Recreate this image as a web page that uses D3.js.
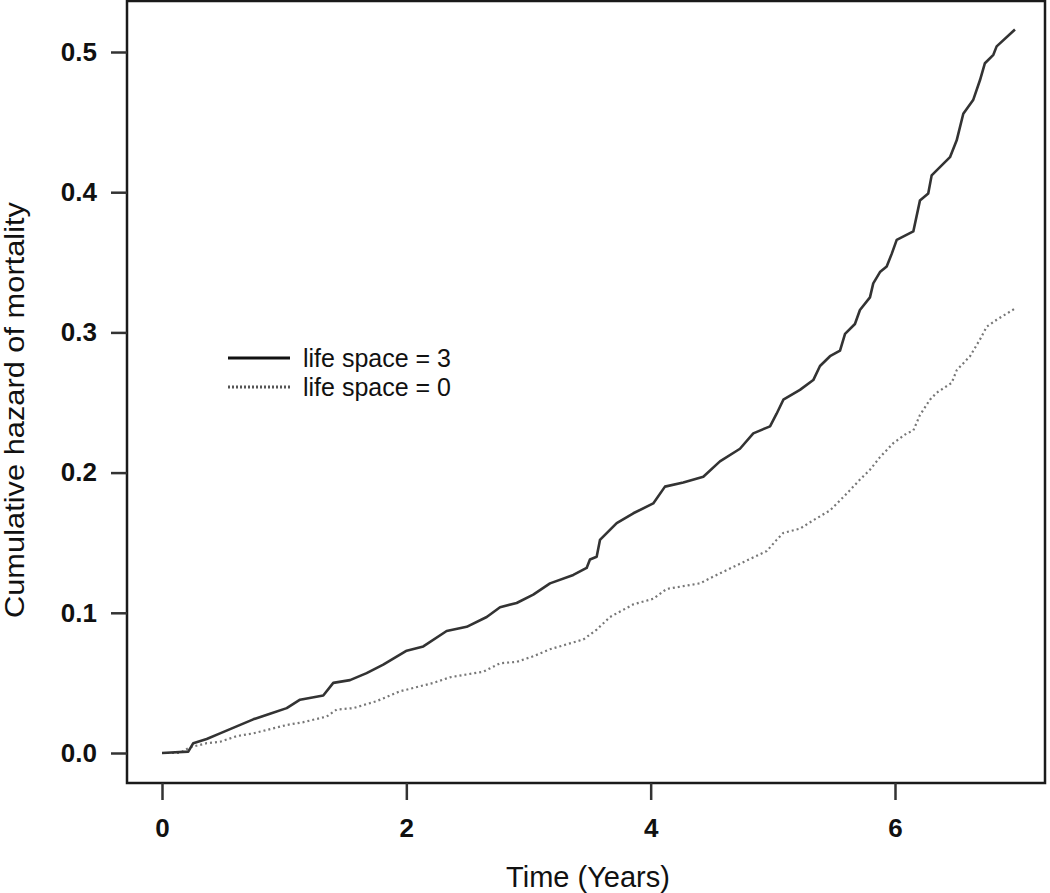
<!DOCTYPE html>
<html>
<head>
<meta charset="utf-8">
<script src="https://cdn.jsdelivr.net/npm/d3@7"></script>
<style>
  html, body { margin: 0; padding: 0; background: #fff; }
  svg { display: block; font-family: "Liberation Sans", Arial, sans-serif; }
</style>
</head>
<body>
<svg id="chart" width="1050" height="893"></svg>
<script>
// ---- data ----
const xTicks = [0, 2, 4, 6];
const yTicks = [0.0, 0.1, 0.2, 0.3, 0.4, 0.5];
const xTitle = "Time (Years)";
const yTitle = "Cumulative hazard of mortality";
const seriesNames = ["life space = 3", "life space = 0"];

const timeLS3 = [0, 0.215, 0.256, 0.366, 0.475, 0.611, 0.747, 0.884, 1.021, 1.130, 1.320, 1.402, 1.539, 1.675, 1.811, 2.003, 2.139, 2.330, 2.494, 2.658, 2.767, 2.903, 3.039, 3.176, 3.367, 3.476, 3.503, 3.558, 3.585, 3.722, 3.858, 4.021, 4.117, 4.267, 4.431, 4.567, 4.731, 4.840, 4.977, 5.031, 5.086, 5.222, 5.331, 5.386, 5.468, 5.550, 5.591, 5.672, 5.713, 5.795, 5.822, 5.877, 5.932, 5.973, 6.014, 6.082, 6.150, 6.204, 6.272, 6.300, 6.450, 6.505, 6.559, 6.641, 6.696, 6.736, 6.805, 6.832, 6.982];
const hazLS3 = [0, 0.001, 0.007, 0.010, 0.014, 0.019, 0.024, 0.028, 0.032, 0.038, 0.041, 0.050, 0.052, 0.057, 0.063, 0.073, 0.076, 0.087, 0.090, 0.097, 0.104, 0.107, 0.113, 0.121, 0.127, 0.132, 0.138, 0.140, 0.152, 0.164, 0.171, 0.178, 0.190, 0.193, 0.197, 0.208, 0.217, 0.228, 0.233, 0.242, 0.252, 0.259, 0.266, 0.276, 0.283, 0.287, 0.299, 0.306, 0.316, 0.325, 0.335, 0.343, 0.347, 0.356, 0.366, 0.369, 0.372, 0.394, 0.399, 0.412, 0.425, 0.437, 0.456, 0.466, 0.480, 0.492, 0.498, 0.504, 0.516];

const timeLS0 = [0, 0.147, 0.229, 0.366, 0.475, 0.611, 0.747, 1.021, 1.157, 1.348, 1.430, 1.566, 1.757, 1.948, 2.221, 2.357, 2.630, 2.767, 2.903, 3.039, 3.176, 3.449, 3.558, 3.667, 3.858, 4.021, 4.131, 4.404, 4.540, 4.731, 4.950, 5.031, 5.086, 5.222, 5.331, 5.468, 5.605, 5.713, 5.795, 5.877, 5.986, 6.096, 6.150, 6.204, 6.286, 6.341, 6.464, 6.505, 6.614, 6.696, 6.750, 6.832, 6.982];
const hazLS0 = [0, 0.000, 0.004, 0.007, 0.008, 0.012, 0.014, 0.020, 0.022, 0.026, 0.031, 0.032, 0.037, 0.044, 0.050, 0.054, 0.058, 0.064, 0.065, 0.069, 0.074, 0.081, 0.088, 0.097, 0.106, 0.110, 0.117, 0.121, 0.127, 0.135, 0.144, 0.152, 0.157, 0.160, 0.166, 0.173, 0.185, 0.195, 0.202, 0.211, 0.221, 0.228, 0.230, 0.241, 0.252, 0.257, 0.264, 0.273, 0.283, 0.295, 0.304, 0.309, 0.317];

// ---- layout ----
const box = { left: 127, top: 1, right: 1045, bottom: 783 };
const svg = d3.select("#chart");

const x = d3.scaleLinear().domain([0, 6]).range([162, 895]);
const y = d3.scaleLinear().domain([0, 0.5]).range([753, 52]);

// plot box
svg.append("rect")
  .attr("x", box.left).attr("y", box.top)
  .attr("width", box.right - box.left).attr("height", box.bottom - box.top)
  .attr("fill", "none").attr("stroke", "#1a1a1a").attr("stroke-width", 2.5);

// y axis
const yAxis = d3.axisLeft(y).tickValues(yTicks).tickFormat(d3.format(".1f"))
  .tickSize(16).tickPadding(14);
const gy = svg.append("g").attr("transform", `translate(${box.left},0)`).call(yAxis);
gy.select(".domain").remove();
gy.selectAll(".tick line").attr("stroke", "#333").attr("stroke-width", 2.5);
gy.selectAll(".tick text").attr("font-size", 26).attr("font-weight", "bold")
  .attr("fill", "#111").attr("font-family", "Liberation Sans, Arial, sans-serif");

// x axis
const xAxis = d3.axisBottom(x).tickValues(xTicks).tickFormat(d3.format("d"))
  .tickSize(17).tickPadding(19);
const gx = svg.append("g").attr("transform", `translate(0,${box.bottom})`).call(xAxis);
gx.select(".domain").remove();
gx.selectAll(".tick line").attr("stroke", "#333").attr("stroke-width", 2.5);
gx.selectAll(".tick text").attr("font-size", 26).attr("font-weight", "bold")
  .attr("fill", "#111").attr("font-family", "Liberation Sans, Arial, sans-serif");

// titles
svg.append("text").attr("x", (box.left + box.right) / 2 + 2).attr("y", 887)
  .attr("text-anchor", "middle").attr("font-size", 29).attr("fill", "#111")
  .text(xTitle);
svg.append("text")
  .attr("transform", `translate(24,410) rotate(-90)`)
  .attr("text-anchor", "middle").attr("font-size", 28).attr("fill", "#111")
  .attr("textLength", 416).attr("lengthAdjust", "spacingAndGlyphs")
  .text(yTitle);

// lines
const line = d3.line().x(d => x(d[0])).y(d => y(d[1]));
const dataLS3 = timeLS3.map((t, i) => [t, hazLS3[i]]);
const dataLS0 = timeLS0.map((t, i) => [t, hazLS0[i]]);

svg.append("path").datum(dataLS0).attr("d", line)
  .attr("fill", "none").attr("stroke", "#777").attr("stroke-width", 2.2)
  .attr("stroke-dasharray", "2,3");
svg.append("path").datum(dataLS3).attr("d", line)
  .attr("fill", "none").attr("stroke", "#333").attr("stroke-width", 2.6)
  .attr("stroke-linejoin", "round");

// legend
const legend = svg.append("g");
const legY = [358, 387];
legend.append("line").attr("x1", 228).attr("x2", 290).attr("y1", legY[0]).attr("y2", legY[0])
  .attr("stroke", "#111").attr("stroke-width", 3);
legend.append("line").attr("x1", 228).attr("x2", 290).attr("y1", legY[1]).attr("y2", legY[1])
  .attr("stroke", "#555").attr("stroke-width", 3).attr("stroke-dasharray", "2,2");
seriesNames.forEach((n, i) => {
  legend.append("text").attr("x", 303).attr("y", legY[i]).attr("dy", "0.36em")
    .attr("font-size", 25).attr("fill", "#111").text(n);
});
</script>
</body>
</html>
